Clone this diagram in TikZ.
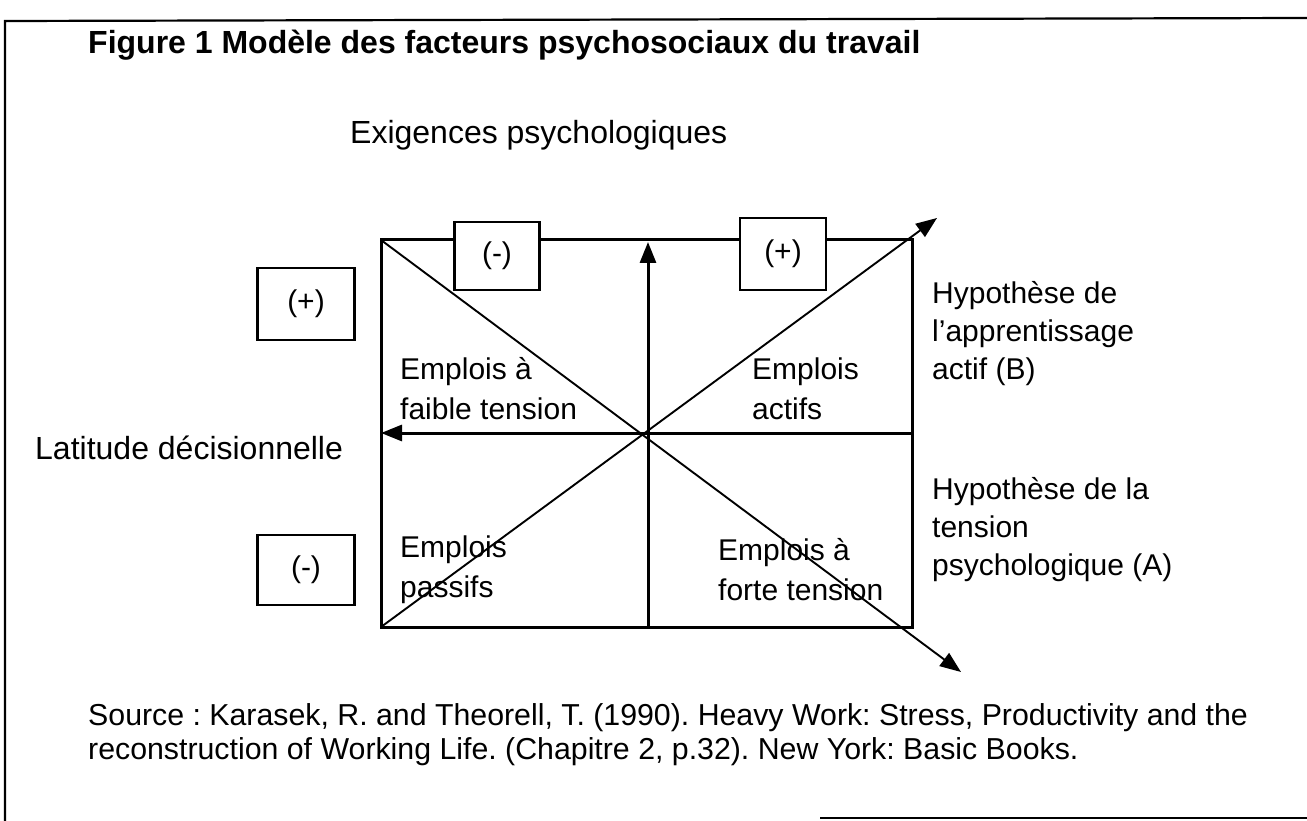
\documentclass[tikz,border=0pt]{standalone}
\usepackage{fontspec}
\setmainfont{Liberation Sans}
\usetikzlibrary{arrows.meta}
\frenchspacing

\tikzset{
  lbl/.style={font=\fontsize{30}{38}\selectfont, align=left, inner sep=0pt, anchor=west},
  quad/.style={lbl, font=\fontsize{30}{40}\selectfont},
  signbox/.style={draw, line width=2.4pt, fill=white, inner sep=0pt, font=\fontsize{30}{36}\selectfont},
  axisline/.style={line width=3pt, -{Triangle[length=21pt,width=16pt]}},
  diagline/.style={line width=1.9pt, -{Triangle[length=21pt,width=16pt]}}
}

\begin{document}
\begin{tikzpicture}[x=1pt,y=-1pt]
    \useasboundingbox (0,0) rectangle (1307,821);

    %Frame
    \draw[line width=2.2pt] (1307,18) -- (5,21) -- (5,821);
    \draw[line width=2.2pt] (820,818) -- (1307,818);

    %Corners and axis ends
    \coordinate (TL) at (381,240);
    \coordinate (BR) at (912,627);
    \coordinate (BL) at (381,627);
    \coordinate (ML) at (381,433);
    \coordinate (MR) at (912,433);
    \coordinate (MT) at (648,242);
    \coordinate (MB) at (648,627);
    \coordinate (HA) at (961,672);
    \coordinate (HB) at (937,218);

    %Lines
    \draw[line width=3pt] (TL) rectangle (BR);
    \draw[axisline] (MR) -- (ML);
    \draw[axisline] (MB) -- (MT);
    \draw[diagline] (TL) -- (HA);
    \draw[diagline] (BL) -- (HB);

    %Sign boxes
    \node[signbox, minimum width=97pt, minimum height=72pt] at (306,304) (LP) {(+)};
    \node[signbox, minimum width=97pt, minimum height=70pt] at (306,570) (LM) {(-)};
    \node[signbox, minimum width=85pt, minimum height=68pt] at (497,256) (TM) {(-)};
    \node[signbox, minimum width=86pt, minimum height=72pt] at (783,254) (TP) {(+)};

    %Titles
    \node[anchor=base west, inner sep=0pt, font=\fontsize{32}{38}\selectfont\bfseries] at (88,54) (title)
        {Figure 1 Modèle des facteurs psychosociaux du travail};
    \node[lbl, font=\fontsize{32}{38}\selectfont] at (350,135) (exig) {Exigences psychologiques};
    \node[lbl, font=\fontsize{32}{38}\selectfont] at (35,448) (lat) {Latitude décisionnelle};

    %Quadrants
    \node[quad] at (400,389) (faible) {Emplois à\\faible tension};
    \node[quad] at (752,389) (actifs) {Emplois\\actifs};
    \node[quad] at (400,570) (passifs) {Emplois\\passifs};
    \node[quad] at (718,570) (forte) {Emplois à\\forte tension};

    %Hypotheses
    \node[lbl] at (932,334) (hypB) {Hypothèse de\\l’apprentissage\\actif (B)};
    \node[lbl] at (932,530) (hypA) {Hypothèse de la\\tension\\psychologique (A)};

    %Source
    \node[lbl, font=\fontsize{30.3}{34}\selectfont] at (88,735) (src)
        {Source : Karasek, R. and Theorell, T. (1990). Heavy Work: Stress, Productivity and the\\
         reconstruction of Working Life. (Chapitre 2, p.32). New York: Basic Books.};
\end{tikzpicture}
\end{document}
